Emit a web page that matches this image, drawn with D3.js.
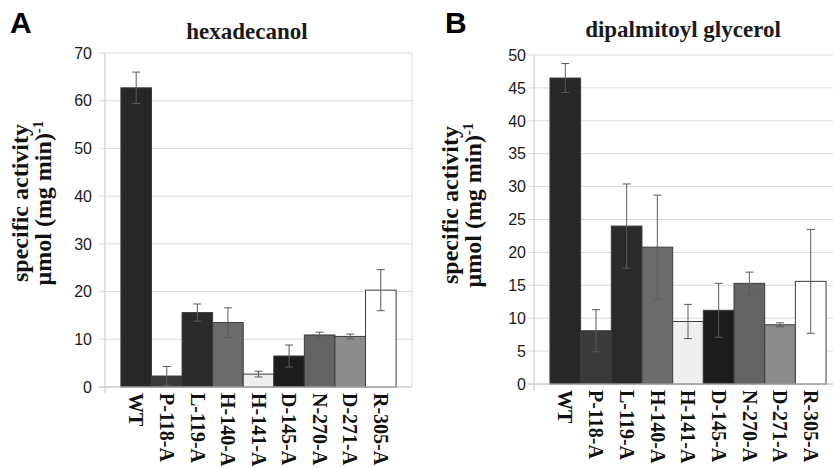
<!DOCTYPE html>
<html>
<head>
<meta charset="utf-8">
<script src="https://cdn.jsdelivr.net/npm/d3@7"></script>
<style>
	body { margin: 0; background: #fff; }
	svg { display: block; }
</style>
</head>
<body>
<svg id="chart" width="833" height="468"></svg>
<script>
//data
var mutants = ["WT", "P-118-A", "L-119-A", "H-140-A", "H-141-A", "D-145-A", "N-270-A", "D-271-A", "R-305-A"];
var barColors = ["#272727", "#3a3a3a", "#2a2a2a", "#6b6b6b", "#efefef", "#1c1c1c", "#636363", "#8c8c8c", "#ffffff"];

var hexadecanolMean = [62.7, 2.3, 15.6, 13.5, 2.7, 6.5, 10.9, 10.6, 20.3];
var hexadecanolErr  = [3.3, 2.0, 1.8, 3.1, 0.6, 2.3, 0.6, 0.5, 4.3];
var hexadecanolTicks = [0, 10, 20, 30, 40, 50, 60, 70];

var dpgMean = [46.5, 8.1, 24.0, 20.8, 9.5, 11.2, 15.3, 9.0, 15.6];
var dpgErr  = [2.2, 3.2, 6.4, 7.9, 2.6, 4.1, 1.7, 0.3, 7.9];
var dpgTicks = [0, 5, 10, 15, 20, 25, 30, 35, 40, 45, 50];

var svg = d3.select("#chart");

var serif = "'Liberation Serif', 'Times New Roman', serif";
var sans = "'Liberation Sans', Arial, sans-serif";

//one panel of the figure
drawPanel = function(opt){
	var g = svg.append("g");

	var y = d3.scaleLinear()
		.domain([0, opt.yMax])
		.range([opt.bottom, opt.top]);

	var x = d3.scaleBand()
		.domain(mutants)
		.range([opt.left, opt.right])
		.paddingInner(0)
		.paddingOuter(0.52);

	//gridlines
	g.selectAll(".grid")
		.data(opt.ticks)
		.enter().append("line")
		.attr("x1", opt.left - 6)
		.attr("x2", opt.right)
		.attr("y1", function(d){ return y(d); })
		.attr("y2", function(d){ return y(d); })
		.style("stroke", "#dadada")
		.style("stroke-width", 1);

	//plot frame
	g.append("line")
		.attr("x1", opt.left).attr("x2", opt.left)
		.attr("y1", opt.top).attr("y2", opt.bottom + 6)
		.style("stroke", "#c4c4c4");
	g.append("line")
		.attr("x1", opt.right).attr("x2", opt.right)
		.attr("y1", opt.top).attr("y2", opt.bottom)
		.style("stroke", "#dadada");

	//tick labels
	g.selectAll(".tick")
		.data(opt.ticks)
		.enter().append("text")
		.attr("x", opt.left - opt.tickGap)
		.attr("y", function(d){ return y(d); })
		.attr("dy", "0.36em")
		.attr("text-anchor", "end")
		.style("font-family", sans)
		.style("font-size", "16px")
		.style("fill", "#1a1a1a")
		.text(function(d){ return d; });

	//bars
	g.selectAll(".bar")
		.data(opt.mean)
		.enter().append("rect")
		.attr("x", function(d, i){ return x(mutants[i]); })
		.attr("y", function(d){ return y(d); })
		.attr("width", x.bandwidth())
		.attr("height", function(d){ return y(0) - y(d); })
		.style("fill", function(d, i){ return barColors[i]; })
		.style("stroke", "#3c3c3c")
		.style("stroke-width", 1);

	//x axis line
	g.append("line")
		.attr("x1", opt.left - 6).attr("x2", opt.right)
		.attr("y1", y(0)).attr("y2", y(0))
		.style("stroke", "#c4c4c4");

	//error bars
	var capHalf = 4;
	var err = g.selectAll(".err")
		.data(opt.mean)
		.enter().append("g")
		.style("stroke", "#5a5a5a")
		.style("stroke-width", 1);
	err.append("line")
		.attr("x1", function(d, i){ return x(mutants[i]) + x.bandwidth() / 2; })
		.attr("x2", function(d, i){ return x(mutants[i]) + x.bandwidth() / 2; })
		.attr("y1", function(d, i){ return y(d + opt.err[i]); })
		.attr("y2", function(d, i){ return y(d - opt.err[i]); });
	[1, -1].forEach(function(sign){
		err.append("line")
			.attr("x1", function(d, i){ return x(mutants[i]) + x.bandwidth() / 2 - capHalf; })
			.attr("x2", function(d, i){ return x(mutants[i]) + x.bandwidth() / 2 + capHalf; })
			.attr("y1", function(d, i){ return y(d + sign * opt.err[i]); })
			.attr("y2", function(d, i){ return y(d + sign * opt.err[i]); });
	});

	//category labels, rotated to read downwards
	g.selectAll(".cat")
		.data(mutants)
		.enter().append("text")
		.attr("transform", function(d){
			return "translate(" + (x(d) + x.bandwidth() / 2) + "," + (opt.bottom + 6) + ") rotate(90)";
		})
		.attr("dy", "0.34em")
		.style("font-family", serif)
		.style("font-weight", "bold")
		.style("font-size", "20px")
		.style("fill", "#111")
		.text(function(d){ return d; });

	//panel title
	g.append("text")
		.attr("x", opt.titleX)
		.attr("y", opt.titleY)
		.attr("text-anchor", "middle")
		.style("font-family", serif)
		.style("font-weight", "bold")
		.style("font-size", "23px")
		.style("fill", "#1a1a1a")
		.text(opt.title);

	//panel letter
	g.append("text")
		.attr("x", opt.letterX)
		.attr("y", 33)
		.style("font-family", sans)
		.style("font-weight", "bold")
		.style("font-size", "30px")
		.style("fill", "#000")
		.text(opt.letter);

	//y axis title, two lines
	var yt = g.append("g")
		.attr("transform", "translate(" + opt.yTitleX + "," + opt.yTitleY + ") rotate(-90)");
	yt.append("text")
		.attr("text-anchor", "middle")
		.style("font-family", serif)
		.style("font-weight", "bold")
		.style("font-size", "24px")
		.style("fill", "#111")
		.text("specific activity");
	var l2 = yt.append("text")
		.attr("y", 23)
		.attr("text-anchor", "middle")
		.style("font-family", serif)
		.style("font-weight", "bold")
		.style("font-size", "24px")
		.style("fill", "#111");
	l2.append("tspan").text("μmol (mg min)");
	l2.append("tspan")
		.attr("dy", "-0.55em")
		.style("font-size", "15px")
		.text("-1");
}

drawPanel({
	left: 105, right: 412, top: 53, bottom: 387,
	yMax: 70, ticks: hexadecanolTicks, tickGap: 13,
	mean: hexadecanolMean, err: hexadecanolErr,
	title: "hexadecanol", titleX: 247, titleY: 39,
	letter: "A", letterX: 10,
	yTitleX: 28, yTitleY: 203
});

drawPanel({
	left: 534, right: 842, top: 55, bottom: 384,
	yMax: 50, ticks: dpgTicks, tickGap: 8,
	mean: dpgMean, err: dpgErr,
	title: "dipalmitoyl glycerol", titleX: 683, titleY: 37,
	letter: "B", letterX: 445,
	yTitleX: 458, yTitleY: 205
});
</script>
</body>
</html>
